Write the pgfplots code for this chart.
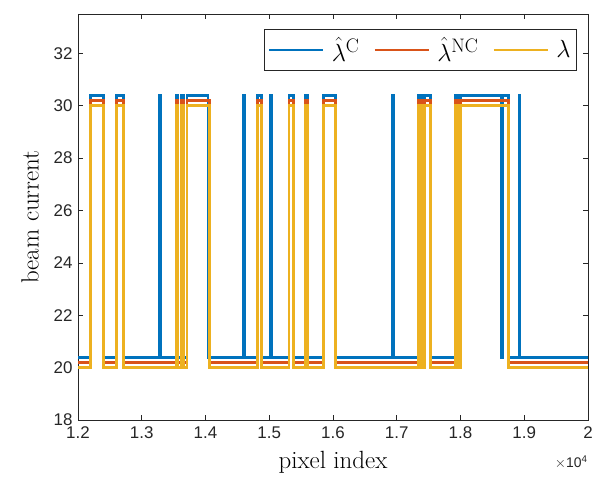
\documentclass[border=0pt]{standalone}
\usepackage{pgfplots}
\pgfplotsset{compat=1.18}
\usepackage{fontspec}
\newfontfamily\ticksans{Liberation Sans}
\definecolor{mblue}{rgb}{0,0.447,0.741}
\definecolor{morange}{rgb}{0.85,0.325,0.098}
\definecolor{myellow}{rgb}{0.929,0.694,0.125}
\definecolor{axgray}{rgb}{0.15,0.15,0.15}

% step signals: value holds until the next x
\pgfplotstableread{
x y
12000 20.4
12190 30.4
12400 20.4
12605 30.4
12720 20.4
13282 30.4
13296 20.4
13540 30.4
13570 20.4
13615 30.4
13655 20.4
13710 30.4
14040 20.4
14602 30.4
14616 20.4
14810 30.4
14875 20.4
15022 30.4
15036 20.4
15310 30.4
15385 20.4
15570 30.4
15605 20.4
15850 30.4
16040 20.4
16932 30.4
16946 20.4
17340 30.4
17390 20.4
17435 30.4
17530 20.4
17920 30.4
17965 20.4
18000 30.4
18645 20.4
18659 30.4
18755 20.4
18920 30.4
18934 20.4
20000 20.4
}\lamC

\pgfplotstableread{
x y
12000 20.2
12190 30.2
12400 20.2
12605 30.2
12720 20.2
13540 30.2
13570 20.2
13615 30.2
13655 20.2
13710 30.2
14065 20.2
14810 30.2
14875 20.2
15310 30.2
15385 20.2
15570 30.2
15605 20.2
15850 30.2
16040 20.2
17340 30.2
17390 20.2
17435 30.2
17530 20.2
17920 30.2
17965 20.2
18000 30.2
18755 20.2
20000 20.2
}\lamNC

\pgfplotstableread{
x y
12000 20
12190 30
12400 20
12605 30
12720 20
13540 30
13570 20
13615 30
13655 20
13710 30
14065 20
14810 30
14875 20
15310 30
15385 20
15570 30
15605 20
15850 30
16040 20
17340 30
17390 20
17435 30
17530 20
17920 30
17965 20
18000 30
18755 20
20000 20
}\lam

\begin{document}
\begin{tikzpicture}
\begin{axis}[
  scale only axis, width=510bp, height=406bp,
  xmin=12000, xmax=20000, ymin=18, ymax=33.5,
  xtick={12000,13000,...,20000},
  xticklabels={1.2,1.3,1.4,1.5,1.6,1.7,1.8,1.9,2},
  ytick={18,20,...,32},
  scaled x ticks=false,
  /pgf/number format/assume math mode=true,
  tick label style={font=\ticksans\fontsize{17}{17}\selectfont, text=axgray},
  xticklabel style={yshift=-3bp},
  yticklabel style={xshift=-2bp},
  tick align=inside, major tick length=5bp,
  xtick pos=both, ytick pos=both,
  axis line style={axgray, line width=0.6bp},
  tick style={axgray, line width=0.6bp},
  xlabel={pixel index}, ylabel={beam current},
  label style={font=\fontsize{25}{25}\selectfont},
  xlabel style={yshift=-6bp},
  ylabel style={yshift=8bp},
  every axis plot/.append style={const plot, line width=2.8bp},
  legend columns=3,
  legend style={at={(rel axis cs:0.978,0.963)}, anchor=north east,
    draw=axgray, line width=0.6bp, inner xsep=4bp, inner ysep=6bp,
    font=\fontsize{28}{28}\selectfont,
    /tikz/every odd column/.append style={column sep=5bp},
    /tikz/every even column/.append style={column sep=12bp}},
  legend cell align=left,
  legend image code/.code={\draw[#1, line width=2.8bp] (0bp,0bp) -- (54bp,0bp);},
]
\addplot[mblue] table {\lamC};
\addlegendentry{$\hat{\lambda}^{\mathrm{C}}$}
\addplot[morange] table {\lamNC};
\addlegendentry{$\hat{\lambda}^{\mathrm{NC}}$}
\addplot[myellow] table {\lam};
\addlegendentry{$\lambda$}
\end{axis}
\node[anchor=north east, font=\ticksans\fontsize{14}{14}\selectfont, text=axgray]
  at ([xshift=3bp,yshift=-32bp]current axis.south east) {$\times$10\textsuperscript{4}};
\pgfresetboundingbox
\path ([xshift=-78bp,yshift=-60bp]current axis.south west) rectangle ++(594bp,480bp);
\end{tikzpicture}
\end{document}
